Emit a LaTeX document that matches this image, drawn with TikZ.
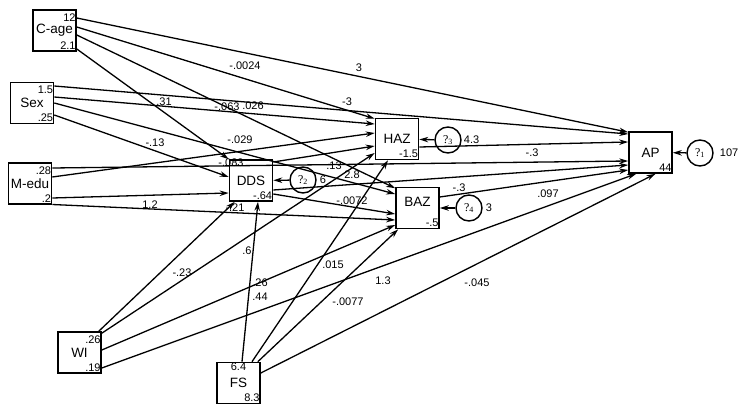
\documentclass[tikz,border=0pt]{standalone}
\usepackage{fontspec}
\setmainfont{Liberation Sans}
\newfontfamily\errfont{Liberation Serif}
\usetikzlibrary{arrows.meta}

\tikzset{
  var/.style={draw, line width=1.6pt, minimum width=43pt, minimum height=41pt, inner sep=0pt, font=\fontsize{13.5}{15}\selectfont},
  err/.style={draw, circle, line width=1.4pt, minimum size=26pt, inner sep=0pt, font=\errfont\fontsize{12}{13}\selectfont},
  num/.style={inner sep=1pt, font=\fontsize{11}{12}\selectfont},
  coef/.style={inner sep=0pt, font=\fontsize{11}{12}\selectfont},
  link/.style={line width=1.3pt, -{Stealth[length=9pt,width=5.5pt]}},
}

\begin{document}
\begin{tikzpicture}[x=1pt,y=-1pt]
\useasboundingbox (0,0) rectangle (744,412);

% Observed variables
\node[var] (cage) at (54.5,30.5) {C-age};
\node[var] (sex) at (32,103) {Sex};
\node[var] (medu) at (30,183.5) {M-edu};
\node[var] (wi) at (79.5,352.5) {WI};
\node[var] (fs) at (238.5,383) {FS};
\node[var] (dds) at (251,180.5) {DDS};
\node[var] (haz) at (397,139) {HAZ};
\node[var, text depth=13pt] (baz) at (417.5,208) {BAZ};
\node[var] (ap) at (650.5,152.5) {AP};

% Error terms
\node[err] (e1) at (700,153) {?\textsubscript{1}};
\node[err] (e2) at (303,180) {?\textsubscript{2}};
\node[err] (e3) at (448,140) {?\textsubscript{3}};
\node[err] (e4) at (469,208) {?\textsubscript{4}};

% Means and variances
\node[num, anchor=north east] (cage-m) at ([yshift=-3pt]cage.north east) {12};
\node[num, anchor=south east] (cage-v) at ([yshift=1pt]cage.south east) {2.1};
\node[num, anchor=north east] (sex-m) at ([yshift=-3pt]sex.north east) {1.5};
\node[num, anchor=south east] (sex-v) at ([yshift=1pt]sex.south east) {.25};
\node[num, anchor=north east] (medu-m) at ([yshift=-3pt]medu.north east) {.28};
\node[num, anchor=south east] (medu-v) at ([yshift=1pt]medu.south east) {.2};
\node[num, anchor=north east] (wi-m) at ([yshift=-3pt]wi.north east) {.26};
\node[num, anchor=south east] (wi-v) at ([yshift=1pt]wi.south east) {.19};
\node[num, anchor=north, inner sep=0.5pt] (fs-m) at (fs.north) {6.4};
\node[num, anchor=south east] (fs-v) at ([yshift=1pt]fs.south east) {8.3};

% Intercepts
\node[num, anchor=south east] (dds-i) at ([yshift=1pt]dds.south east) {-.64};
\node[num, anchor=south east] (haz-i) at ([yshift=1pt]haz.south east) {-1.5};
\node[num, anchor=south east] (baz-i) at ([yshift=1pt]baz.south east) {-.5};
\node[num, anchor=south east] (ap-i) at ([yshift=1pt]ap.south east) {44};

% Error variances
\node[num, anchor=west] (e1-v) at ([xshift=5pt]e1.east) {107};
\node[num, anchor=west] (e2-v) at ([xshift=2pt]e2.east) {6};
\node[num, anchor=west] (e3-v) at ([xshift=1pt]e3.east) {4.3};
\node[num, anchor=west] (e4-v) at ([xshift=2pt]e4.east) {3};

%Straight Lines
\draw[link] ([yshift=12.5pt]cage.east) -- ([yshift=-1pt]ap.north west);
\draw[link] ([yshift=3.5pt]cage.east) -- ([yshift=-1pt]haz.north west);
\draw[link] ([yshift=-4.5pt]cage.east) -- ([yshift=-1.5pt]baz.north west);
\draw[link] ([yshift=-18.5pt]cage.east) -- (dds.north west);

\draw[link] ([yshift=17pt]sex.east) -- ([yshift=18.5pt]ap.west);
\draw[link] ([yshift=6pt]sex.east) -- ([yshift=15pt]haz.west);
\draw[link] (sex.east) -- ([yshift=14pt]baz.west);
\draw[link] ([yshift=-12pt]sex.east) -- ([yshift=3.5pt]dds.west);

\draw[link] ([yshift=15.5pt]medu.east) -- ([yshift=-8.5pt]ap.west);
\draw[link] ([yshift=6.5pt]medu.east) -- ([yshift=6pt]haz.west);
\draw[link] ([yshift=-14.5pt]medu.east) -- ([yshift=-12.5pt]dds.west);
\draw[link] ([yshift=-21pt]medu.east) -- ([yshift=-12pt]baz.west);

\draw[link] ([yshift=18.5pt]dds.east) -- ([yshift=-7pt]haz.west);
\draw[link] ([yshift=-9.5pt]dds.east) -- ([yshift=-12.5pt]ap.west);
\draw[link] ([yshift=-13.5pt]dds.east) -- ([yshift=-6pt]baz.west);

\draw[link] ([yshift=-8pt]haz.east) -- ([yshift=10.5pt]ap.west);
\draw[link] ([yshift=11pt]baz.east) -- ([yshift=-17.5pt]ap.west);

\draw[link] ([xshift=-3pt]wi.north east) -- ([xshift=6pt]dds.south west);
\draw[link] ([yshift=-2pt]wi.north east) -- ([yshift=-14pt]haz.west);
\draw[link] ([yshift=2.5pt]wi.east) -- ([yshift=-17pt]baz.west);
\draw[link] ([yshift=-15.5pt]wi.east) -- ([xshift=8pt]ap.south west);

\draw[link] ([xshift=3.5pt]fs.north) -- ([xshift=7pt]dds.south);
\draw[link] ([xshift=13.5pt]fs.north) -- ([xshift=-9pt]haz.south);
\draw[link] ([xshift=-3pt]fs.north east) -- ([xshift=3pt]baz.south west);
\draw[link] ([yshift=10pt]fs.east) -- ([xshift=5pt]ap.south);

\draw[link] (e1) -- (ap);
\draw[link] (e2) -- (dds);
\draw[link] (e3) -- (haz);
\draw[link] (e4) -- (baz);

% Text Node
\node[coef] (l-cage-ap) at (359,68) {3};
\node[coef] (l-cage-haz) at (245,66) {-.0024};
\node[coef] (l-cage-dds) at (164,102) {.31};
\node[coef] (l-sex-haz) at (227,107) {-.063};
\node[coef] (l-cage-baz) at (253,106) {.026};
\node[coef] (l-sex-ap) at (347,102) {-3};
\node[coef] (l-sex-dds) at (155,143) {-.13};
\node[coef] (l-sex-baz) at (240,140) {-.029};
\node[coef] (l-medu-haz) at (231,163) {-.083};
\node[coef] (l-medu-ap) at (334,166) {.13};
\node[coef] (l-dds-haz) at (352,175) {2.8};
\node[coef] (l-haz-ap) at (532,153) {-.3};
\node[coef] (l-dds-ap) at (459,188) {-.3};
\node[coef] (l-baz-ap) at (548,194) {.097};
\node[coef] (l-dds-baz) at (352,201) {-.0072};
\node[coef] (l-medu-dds) at (150,205) {1.2};
\node[coef] (l-medu-baz) at (235,208) {-.21};
\node[coef] (l-wi-dds) at (182,273) {-.23};
\node[coef] (l-wi-haz) at (247,251) {.6};
\node[coef] (l-fs-dds) at (260,283) {.26};
\node[coef] (l-wi-baz) at (260,297) {.44};
\node[coef] (l-fs-haz) at (333,265) {.015};
\node[coef] (l-wi-ap) at (383,281) {1.3};
\node[coef] (l-fs-baz) at (348,302) {-.0077};
\node[coef] (l-fs-ap) at (477,283) {-.045};

\end{tikzpicture}
\end{document}
